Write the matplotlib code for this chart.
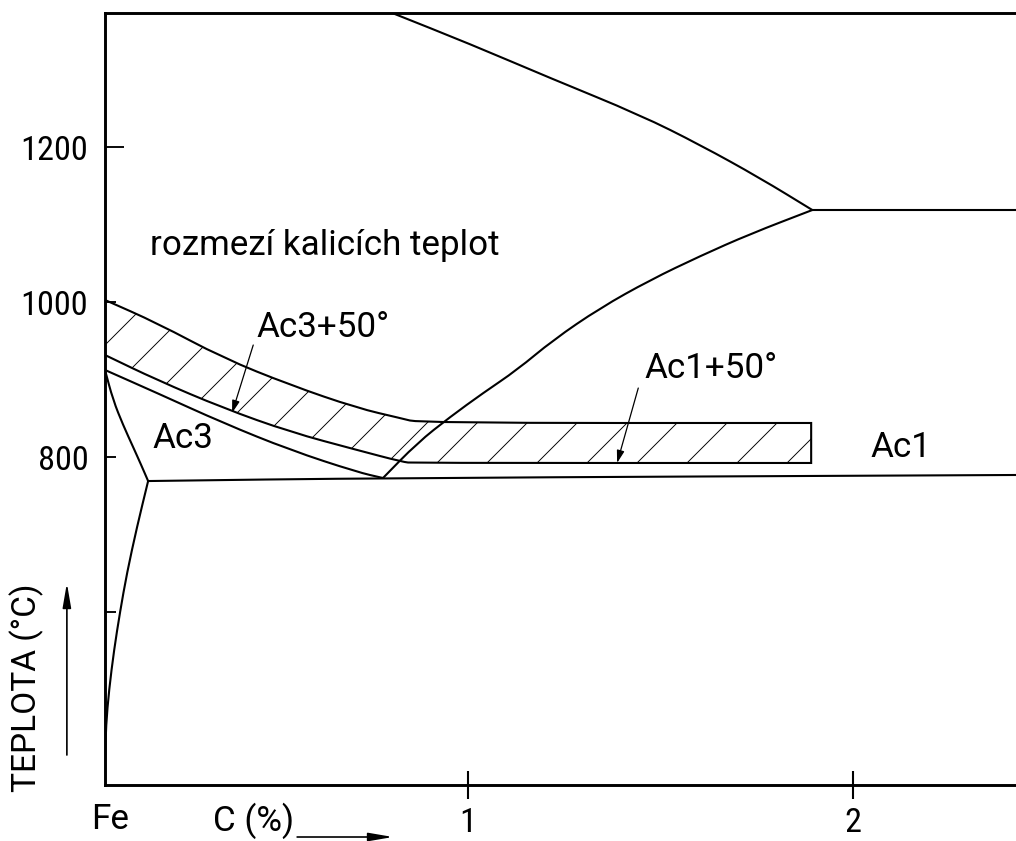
import matplotlib
matplotlib.use('Agg')
import matplotlib.pyplot as plt
import matplotlib.font_manager as fm
from matplotlib.patches import FancyArrowPatch, PathPatch
from matplotlib.path import Path

# ---------------- font choice (technical lettering look) ----------------
_names = {f.name for f in fm.fontManager.ttflist}
NUM_FAMILY = 'Roboto Condensed' if 'Roboto Condensed' in _names else 'DejaVu Sans'
TXT_FAMILY = 'Roboto' if 'Roboto' in _names else 'DejaVu Sans'
plt.rcParams['font.family'] = [TXT_FAMILY, 'DejaVu Sans']
plt.rcParams['hatch.linewidth'] = 0.45
plt.rcParams['hatch.color'] = 'black'
FS_NUM = 16.5
FS_TXT = 16.8
NUM_FONT = dict(family=[NUM_FAMILY, 'DejaVu Sans'], size=FS_NUM, weight='normal')
TXT_FONT = dict(family=[TXT_FAMILY, 'DejaVu Sans'], size=FS_TXT, weight='normal')

# ---------------- data (C %, temperature degC) ----------------
gp_c = [0.057, 0.078, 0.104, 0.130, 0.151, 0.169]
gp_t = [912.3, 873.5, 841.3, 812.9, 789.7, 769.0]
pq_c = [0.169, 0.140, 0.114, 0.096, 0.0805, 0.0675, 0.0597, 0.057]
pq_t = [769.0, 709.7, 650.3, 600.0, 551.0, 499.4, 454.2, 409.0]
ac3_c = [0.057, 0.192, 0.364, 0.538, 0.712, 0.779]
ac3_t = [912.3, 882.6, 843.9, 809.0, 780.6, 772.9]
ac1_c = [0.169, 0.779, 2.423]
ac1_t = [769.0, 772.9, 776.8]
acm_c = [0.779, 0.868, 0.953, 1.039, 1.127, 1.221, 1.343, 1.473, 1.603, 1.732, 1.894]
acm_t = [772.9, 818.1, 851.6, 882.6, 912.3, 951.0, 992.3, 1028.4, 1059.4, 1087.7, 1118.7]
sol_c = [0.803, 1.005, 1.213, 1.447, 1.603, 1.758, 1.894]
sol_t = [1372.9, 1332.9, 1289.0, 1241.3, 1202.6, 1160.0, 1118.7]
ecf_c = [1.894, 2.423]
ecf_t = [1118.7, 1118.7]
band_top_c = [0.057, 0.192, 0.364, 0.538, 0.712, 0.823, 0.875, 1.891]
band_top_t = [1002.6, 972.9, 927.7, 892.9, 863.2, 850.3, 843.9, 843.9]
band_bot_c = [1.891, 0.857, 0.831, 0.712, 0.538, 0.364, 0.192, 0.057]
band_bot_t = [792.3, 792.3, 793.5, 809.0, 832.3, 863.2, 899.4, 931.6]

ytick_vals = [1200, 1000, 800, 600]
ytick_labels = ['1200', '1000', '800', '']
xtick_vals = [1, 2]
xtick_labels = ['1', '2']


def smooth(xs, ys, start_code=Path.MOVETO):
    """Quadratic-Bezier path through midpoints, using the points as controls."""
    pts = list(zip(xs, ys))
    verts, codes = [pts[0]], [start_code]
    if len(pts) < 3:
        verts += pts[1:]
        codes += [Path.LINETO] * (len(pts) - 1)
        return verts, codes
    mids = [((pts[i][0] + pts[i + 1][0]) / 2, (pts[i][1] + pts[i + 1][1]) / 2)
            for i in range(len(pts) - 1)]
    verts.append(mids[0]); codes.append(Path.LINETO)
    for i in range(1, len(pts) - 1):
        verts += [pts[i], mids[i]]
        codes += [Path.CURVE3, Path.CURVE3]
    verts.append(pts[-1]); codes.append(Path.LINETO)
    return verts, codes


# ---------------- figure ----------------
W, H, DPI = 1016, 841, 150
fig = plt.figure(figsize=(W / DPI, H / DPI), dpi=DPI)
ax = fig.add_axes([105 / W, 1 - 785 / H, 1 - 105 / W, (785 - 13) / H])
ax.set_xlim(0.057, 2.423)
ax.set_ylim(376.8, 1372.9)

for s in ['left', 'top', 'bottom']:
    ax.spines[s].set_linewidth(1.4)
ax.spines['right'].set_visible(False)

LW = 1.0
ax.set_xticks(xtick_vals)
ax.set_xticklabels(xtick_labels, fontdict=NUM_FONT)
ax.tick_params(axis='x', direction='inout', length=13.4, width=1.0, pad=4)
ax.set_yticks(ytick_vals)
ax.set_yticklabels(ytick_labels, fontdict=NUM_FONT)
ax.tick_params(axis='y', direction='in', length=5.3, width=0.9, pad=8)
ax.yaxis.get_major_ticks()[0].tick1line.set_markersize(9)

# hatched band of hardening temperatures
tv, tc = smooth(band_top_c, band_top_t)
bv, bc = smooth(band_bot_c, band_bot_t, start_code=Path.LINETO)
band_path = Path(tv + bv + [tv[0]], tc + bc + [Path.CLOSEPOLY])
ax.add_patch(PathPatch(band_path, facecolor='none', edgecolor='black', lw=LW,
                       hatch='/', zorder=2))

for c, t in [(gp_c, gp_t), (pq_c, pq_t), (ac3_c, ac3_t), (ac1_c, ac1_t),
             (acm_c, acm_t), (sol_c, sol_t), (ecf_c, ecf_t)]:
    v, cd = smooth(c, t)
    ax.add_patch(PathPatch(Path(v, cd), facecolor='none', edgecolor='black',
                           lw=LW, capstyle='round', zorder=3))

# labels
ax.text(0.174, 1073.5, 'rozmezí kalicích teplot', fontdict=TXT_FONT, ha='left', va='center')
ax.text(0.450, 967.7, 'Ac3+50°', fontdict=TXT_FONT, ha='left', va='center')
ax.text(0.179, 824.5, 'Ac3', fontdict=TXT_FONT, ha='left', va='center')
ax.text(1.458, 914.8, 'Ac1+50°', fontdict=TXT_FONT, ha='left', va='center')
ax.text(2.044, 812.9, 'Ac1', fontdict=TXT_FONT, ha='left', va='center')

# leaders
for (x0, y0), (x1, y1) in [((0.442, 944.5), (0.387, 856.8)),
                           ((1.442, 889.0), (1.387, 792.3))]:
    ax.add_patch(FancyArrowPatch((x0, y0), (x1, y1),
                                 arrowstyle='-|>,head_length=0.5,head_width=0.15',
                                 mutation_scale=10, lw=0.6, color='black', zorder=4,
                                 shrinkA=0, shrinkB=0))

# axis annotations
ax.text(0.070, 332.5, 'Fe', fontdict=TXT_FONT, ha='center', va='center', clip_on=False)
ax.text(0.444, 330.0, 'C (%)', fontdict=TXT_FONT, ha='center', va='center', clip_on=False)
ax.add_patch(FancyArrowPatch((0.556, 309.7), (0.805, 309.7),
                             arrowstyle='-|>,head_length=0.7,head_width=0.12',
                             mutation_scale=14, lw=0.8, color='black', clip_on=False,
                             shrinkA=0, shrinkB=0))
ax.text(-0.145, 501.9, 'TEPLOTA (°C)', fontdict=dict(TXT_FONT, size=16.0), rotation=90,
        ha='center', va='center', clip_on=False)
ax.add_patch(FancyArrowPatch((-0.042, 415.5), (-0.042, 637.4),
                             arrowstyle='-|>,head_length=0.7,head_width=0.12',
                             mutation_scale=14, lw=0.8, color='black', clip_on=False,
                             shrinkA=0, shrinkB=0))

fig.savefig('out.png', dpi=DPI)
